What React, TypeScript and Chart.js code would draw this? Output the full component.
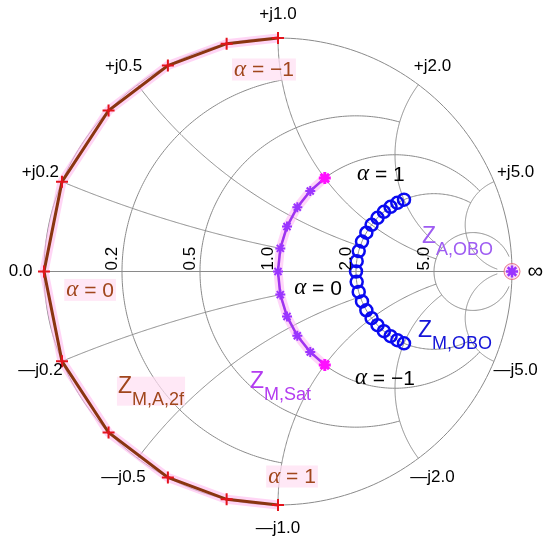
import React, { useEffect, useRef } from "react";
import { Chart, registerables } from "chart.js";

Chart.register(...registerables);

// ---- Data (normalized impedances z = r + jx) ----
const zMA2fR = [0, 0, 0, 0, 0, 0, 0, 0, 0, 0, 0];
const zMA2fX = [1, 0.8, 0.6, 0.4, 0.2, 0, -0.2, -0.4, -0.6, -0.8, -1];

const zMSatR = [1, 1, 1, 1, 1, 1, 1, 1, 1, 1, 1];
const zMSatX = [1, 0.8, 0.6, 0.4, 0.2, 0, -0.2, -0.4, -0.6, -0.8, -1];

const zMOBOR = [2, 2, 2, 2, 2, 2, 2, 2, 2, 2, 2, 2, 2, 2, 2, 2, 2, 2, 2, 2, 2];
const zMOBOX = [2, 1.8, 1.6, 1.4, 1.2, 1, 0.8, 0.6, 0.4, 0.2, 0, -0.2, -0.4, -0.6, -0.8, -1, -1.2, -1.4, -1.6, -1.8, -2];

const zAOBOR = [Infinity];
const zAOBOX = [0];

// Smith chart grid: constant values and the value where each arc ends
const gridValues = [0.2, 0.5, 1.0, 2.0, 5.0];
const gridEnds = [1.0, 2.0, 5.0, 5.0, 30];
const resistanceLabels = ["0.2", "0.5", "1.0", "2.0", "5.0"];
const reactanceLabelsPos = ["+j0.2", "+j0.5", "+j1.0", "+j2.0", "+j5.0"];
const reactanceLabelsNeg = ["\u2014j0.2", "\u2014j0.5", "\u2014j1.0", "\u2014j2.0", "\u2014j5.0"];

const toGamma = (r: number, x: number) => {
  if (!isFinite(r)) return { x: 1, y: 0 };
  const d = (r + 1) * (r + 1) + x * x;
  return { x: (r * r - 1 + x * x) / d, y: (2 * x) / d };
};
const toPoints = (rs: number[], xs: number[]) => rs.map((r, i) => toGamma(r, xs[i]));

const BROWN = "#8A3510";
const BROWN_TXT = "#A0461C";
const RED = "#E3141C";
const PURPLE_LINE = "#A032F0";
const PURPLE_MK = "#9A35FF";
const MAGENTA = "#FF10FF";
const BLUE = "#0A0AF0";
const GRID = "#8a8a8a";
const SANS = "'Liberation Sans', Arial, sans-serif";
const SERIF = "'Liberation Serif', 'DejaVu Serif', serif";
const PINK_BG = "rgba(255,222,242,0.7)";

const smithPlugin = {
  id: "smith",
  beforeDatasetsDraw(chart: any) {
    const ctx = chart.ctx as CanvasRenderingContext2D;
    const xs = chart.scales.x;
    const ys = chart.scales.y;
    const P = (gx: number, gy: number) => [xs.getPixelForValue(gx), ys.getPixelForValue(gy)];
    ctx.save();
    ctx.strokeStyle = GRID;
    ctx.lineWidth = 1;
    const poly = (pts: number[][]) => {
      ctx.beginPath();
      pts.forEach((p, i) => {
        const q = P(p[0], p[1]);
        if (i === 0) ctx.moveTo(q[0], q[1]);
        else ctx.lineTo(q[0], q[1]);
      });
      ctx.stroke();
    };
    const N = 240;
    const outer: number[][] = [];
    for (let i = 0; i <= N; i++) {
      const a = (2 * Math.PI * i) / N;
      outer.push([Math.cos(a), Math.sin(a)]);
    }
    poly(outer);
    poly([[-1, 0], [1, 0]]);
    gridValues.forEach((r, k) => {
      const c = r / (1 + r);
      const R = 1 / (1 + r);
      const e = toGamma(r, gridEnds[k]);
      const a0 = Math.atan2(e.y, e.x - c);
      const pts: number[][] = [];
      for (let i = 0; i <= N; i++) {
        const a = a0 + ((2 * Math.PI - 2 * a0) * i) / N;
        pts.push([c + R * Math.cos(a), R * Math.sin(a)]);
      }
      poly(pts);
    });
    gridValues.forEach((xv, k) => {
      [xv, -xv].forEach((x) => {
        const cy = 1 / x;
        const R = 1 / Math.abs(x);
        const g0 = toGamma(0, x);
        const g1 = toGamma(gridEnds[k], x);
        const a0 = Math.atan2(g0.y - cy, g0.x - 1);
        const a1 = Math.atan2(g1.y - cy, g1.x - 1);
        let d = a1 - a0;
        while (d > Math.PI) d -= 2 * Math.PI;
        while (d < -Math.PI) d += 2 * Math.PI;
        const pts: number[][] = [];
        for (let i = 0; i <= N; i++) {
          const a = a0 + (d * i) / N;
          pts.push([1 + R * Math.cos(a), cy + R * Math.sin(a)]);
        }
        poly(pts);
      });
    });
    ctx.restore();
  },
  afterDatasetsDraw(chart: any) {
    const ctx = chart.ctx as CanvasRenderingContext2D;
    const xs = chart.scales.x;
    const ys = chart.scales.y;
    const P = (gx: number, gy: number) => [xs.getPixelForValue(gx), ys.getPixelForValue(gy)];
    ctx.save();
    ctx.fillStyle = "#000";
    ctx.font = `17px ${SANS}`;
    gridValues.forEach((r, k) => {
      const left = (r - 1) / (r + 1);
      const p = P(left, 0);
      ctx.save();
      ctx.translate(p[0] - 3, p[1] - 1);
      ctx.rotate(-Math.PI / 2);
      ctx.textAlign = "left";
      ctx.textBaseline = "bottom";
      ctx.fillText(resistanceLabels[k], 0, 2);
      ctx.restore();
    });
    ctx.textAlign = "center";
    ctx.textBaseline = "middle";
    const edge = (text: string, ang: number) => {
      const p = P(1.1 * Math.cos(ang), 1.1 * Math.sin(ang));
      ctx.fillText(text, p[0], p[1]);
    };
    gridValues.forEach((x, k) => {
      const gp = toGamma(0, x);
      edge(reactanceLabelsPos[k], Math.atan2(gp.y, gp.x));
      const gn = toGamma(0, -x);
      edge(reactanceLabelsNeg[k], Math.atan2(gn.y, gn.x));
    });
    edge("0.0", Math.PI);
    ctx.font = `22px ${SANS}`;
    edge("\u221E", 0);

    const alphaLabel = (gx: number, gy: number, rest: string, color: string, bg: boolean) => {
      const p = P(gx, gy);
      const fa = `italic 23px ${SERIF}`;
      const fr = `21px ${SANS}`;
      ctx.font = fa;
      const wa = ctx.measureText("\u03B1").width;
      ctx.font = fr;
      const wr = ctx.measureText(rest).width;
      const x0 = p[0] - (wa + wr) / 2;
      if (bg) {
        ctx.fillStyle = PINK_BG;
        ctx.fillRect(x0 - 2, p[1] - 11, wa + wr + 4, 22);
      }
      ctx.fillStyle = color;
      ctx.textAlign = "left";
      ctx.textBaseline = "middle";
      ctx.font = fa;
      ctx.fillText("\u03B1", x0, p[1]);
      ctx.font = fr;
      ctx.fillText(rest, x0 + wa, p[1] + 1);
    };
    alphaLabel(-0.06, 0.865, " = \u22121", BROWN_TXT, true);
    alphaLabel(-0.803, -0.079, " = 0", BROWN_TXT, true);
    alphaLabel(0.06, -0.878, " = 1", BROWN_TXT, true);
    alphaLabel(0.44, 0.417, " = 1", "#000", false);
    alphaLabel(0.171, -0.071, " = 0", "#000", false);
    alphaLabel(0.457, -0.455, " = \u22121", "#000", false);

    const zLabel = (gx: number, gy: number, sub: string, color: string, bg: boolean) => {
      const p = P(gx, gy);
      ctx.textAlign = "left";
      ctx.textBaseline = "alphabetic";
      ctx.font = `23px ${SANS}`;
      const wz = ctx.measureText("Z").width;
      ctx.font = `18px ${SANS}`;
      const ws = ctx.measureText(sub).width;
      if (bg) {
        ctx.fillStyle = PINK_BG;
        ctx.fillRect(p[0] - 1, p[1] - 16, wz + ws + 2, 29);
      }
      ctx.fillStyle = color;
      ctx.font = `23px ${SANS}`;
      ctx.fillText("Z", p[0], p[1]);
      ctx.font = `18px ${SANS}`;
      ctx.fillText(sub, p[0] + wz, p[1] + 12);
    };
    zLabel(-0.684, -0.519, "M,A,2f", BROWN_TXT, true);
    zLabel(-0.12, -0.498, "M,Sat", "#B33CF0", false);
    zLabel(0.615, 0.122, "A,OBO", "#9E5CF2", false);
    zLabel(0.598, -0.28, "M,OBO", "#1414D8", false);
    ctx.restore();
  },
};

export default function App() {
  const ref = useRef<HTMLCanvasElement>(null);
  useEffect(() => {
    if (!ref.current) return;
    const ma2f = toPoints(zMA2fR, zMA2fX);
    const sat = toPoints(zMSatR, zMSatX);
    const mobo = toPoints(zMOBOR, zMOBOX);
    const aobo = toPoints(zAOBOR, zAOBOX);
    const isEnd = (i: number) => i === 0 || i === sat.length - 1;
    const satColors = sat.map((_, i) => (isEnd(i) ? MAGENTA : PURPLE_MK));
    const chart = new Chart(ref.current, {
      type: "scatter",
      data: {
        datasets: [
          {
            label: "halo1",
            data: ma2f,
            showLine: true,
            borderColor: "rgba(255,185,238,0.6)",
            borderWidth: 9,
            pointRadius: 0,
            clip: false,
            order: 20,
          } as any,
          {
            label: "halo2",
            data: sat,
            showLine: true,
            borderColor: "rgba(255,185,245,0.6)",
            borderWidth: 9,
            pointRadius: 0,
            clip: false,
            order: 19,
          } as any,
          {
            label: "Z_M,A,2f",
            data: ma2f,
            showLine: true,
            borderColor: BROWN,
            borderWidth: 3,
            pointStyle: "cross",
            pointRadius: 6,
            pointBorderColor: RED,
            pointBorderWidth: 2,
            clip: false,
            order: 10,
          } as any,
          {
            label: "Z_M,Sat",
            data: sat,
            showLine: true,
            borderColor: PURPLE_LINE,
            borderWidth: 2.5,
            pointStyle: "star",
            pointRadius: sat.map((_, i) => (isEnd(i) ? 6 : 5)),
            pointBorderColor: satColors,
            pointBackgroundColor: satColors,
            pointBorderWidth: sat.map((_, i) => (isEnd(i) ? 3 : 2)),
            clip: false,
            order: 9,
          } as any,
          {
            label: "Z_M,OBO",
            data: mobo,
            showLine: false,
            pointStyle: "circle",
            pointRadius: 6,
            pointBorderColor: BLUE,
            pointBackgroundColor: "rgba(0,0,0,0)",
            pointBorderWidth: 2.5,
            clip: false,
            order: 8,
          } as any,
          {
            label: "ring",
            data: aobo,
            showLine: false,
            pointStyle: "circle",
            pointRadius: 8,
            pointBorderColor: "rgba(225,90,110,0.8)",
            pointBackgroundColor: "rgba(255,205,240,0.6)",
            pointBorderWidth: 1,
            clip: false,
            order: 7,
          } as any,
          {
            label: "Z_A,OBO",
            data: aobo,
            showLine: false,
            pointStyle: "star",
            pointRadius: 6,
            pointBorderColor: PURPLE_MK,
            pointBorderWidth: 2.5,
            clip: false,
            order: 6,
          } as any,
        ],
      },
      options: {
        animation: false,
        responsive: false,
        devicePixelRatio: 1,
        layout: { padding: { left: 44, right: 38, top: 38, bottom: 43 } },
        scales: {
          x: { type: "linear", min: -1, max: 1, display: false },
          y: { type: "linear", min: -1, max: 1, display: false },
        },
        plugins: { legend: { display: false }, tooltip: { enabled: false } },
        events: [],
      },
      plugins: [smithPlugin],
    });
    return () => chart.destroy();
  }, []);
  return (
    <div style={{ position: "absolute", left: 0, top: 0, width: 550, height: 548, background: "#fff" }}>
      <canvas ref={ref} width={550} height={548} />
    </div>
  );
}
